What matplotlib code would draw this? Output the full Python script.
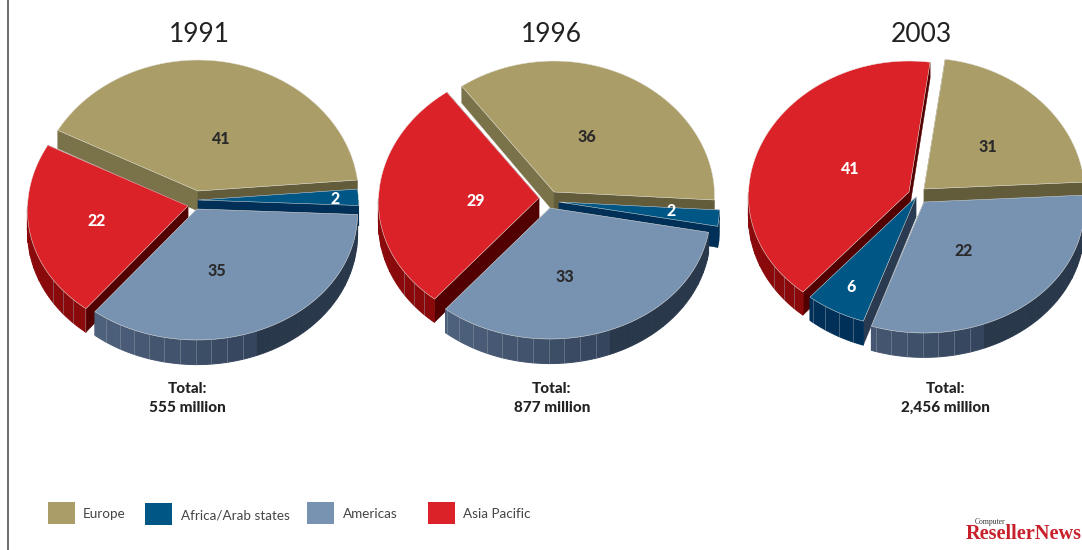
import numpy as np
import matplotlib
matplotlib.use('Agg')
import matplotlib.pyplot as plt
from matplotlib.patches import Polygon, Rectangle

years = ['1991', '1996', '2003']
totals = ['555 million', '877 million', '2,456 million']

# printed numbers
europe = [41, 36, 31]
africa = [2, 2, 6]
americas = [35, 33, 22]
asia = [22, 29, 41]

# slice sizes as drawn (2003 Europe and Americas slices don't follow their printed labels)
europe_drawn = [41, 36, 22]
africa_drawn = [2, 2, 6]
americas_drawn = [35, 33, 31]
asia_drawn = [22, 29, 41]

# counter-clockwise slice order for each pie
slice_order = [
    ['europe', 'asia', 'americas', 'africa'],
    ['europe', 'asia', 'americas', 'africa'],
    ['europe', 'asia', 'africa', 'americas'],
]
legend_names = ['Europe', 'Africa/Arab states', 'Americas', 'Asia Pacific']

# layout
start_angle = [4.8, -3.5, 3.0]
apex = [
    {'europe': (198, 191), 'asia': (188, 206), 'americas': (197, 209), 'africa': (198, 200)},
    {'europe': (554, 192), 'asia': (539, 198), 'americas': (550, 208), 'africa': (559, 202)},
    {'europe': (924, 189), 'asia': (909, 192), 'americas': (924, 202), 'africa': (916, 197)},
]
label_pos = [
    {'europe': (220, 138), 'asia': (97, 219), 'americas': (217, 270), 'africa': (335, 198)},
    {'europe': (587, 136), 'asia': (476, 199), 'americas': (565, 276), 'africa': (671, 210)},
    {'europe': (988, 145), 'asia': (849, 168), 'americas': (964, 250), 'africa': (851, 286)},
]
title_x = [199, 551, 921]
total_x = [187, 552, 945]
RX, RY = 160.5, 131

tops = {'europe': '#ab9d68', 'africa': '#005685', 'americas': '#7893b2', 'asia': '#dc2229'}
edge_start = {'europe': '#635c3a', 'africa': '#003058', 'americas': '#2a384c', 'asia': '#520000'}
edge_end = {'europe': '#7a7249', 'africa': '#2a3a50', 'americas': '#2a384c', 'asia': '#520000'}
text_col = {'europe': '#2a2a2a', 'africa': 'white', 'americas': '#2a2a2a', 'asia': 'white'}

drawn = {'europe': europe_drawn, 'africa': africa_drawn, 'americas': americas_drawn, 'asia': asia_drawn}
printed = {'europe': europe, 'africa': africa, 'americas': americas, 'asia': asia}


def lower(pts):
    # push top-face points down by the wall height, a bit taller towards the viewer
    pts = np.asarray(pts, dtype=float)
    return pts + np.column_stack([np.zeros(len(pts)), 20 + 4 * (pts[:, 1] - 190) / RY])


def arc(cx, cy, a, b, n=60):
    # back of the pie slightly narrower than the front
    t = np.radians(np.linspace(a, b, n))
    return np.column_stack([cx + RX * np.cos(t) * (1 - 0.03 * np.sin(t)), cy - RY * np.sin(t)])


def facet_style(region, theta):
    # returns colour and whether a thin rib line is drawn
    if region == 'americas':
        if theta >= 290:
            return '#2a384c', False
        f = np.clip((theta - 235) / 55, 0, 1)
        c0, c1 = np.array([0x4d, 0x60, 0x7c]), np.array([0x34, 0x44, 0x5c])
        return tuple((c0 + (c1 - c0) * f) / 255), True
    if region == 'asia':
        return '#8a0a0c', theta > 212
    if region == 'africa':
        return '#003058', True
    return '#635c3a', False


def draw_slice(ax, region, cx, cy, a, b):
    rim = arc(cx, cy, a, b)
    # cut faces, the one further back first
    faces = [(rim[0], edge_start[region]), (rim[-1], edge_end[region])]
    faces.sort(key=lambda f: f[0][1])
    for corner, col in faces:
        quad = np.array([[cx, cy], corner])
        ax.add_patch(Polygon(np.vstack([quad, lower(quad)[::-1]]), fc=col, ec=col, lw=0.3))
    # outer wall, only the part facing the viewer
    lo, hi = max(a, 180), min(b, 360)
    if hi > lo:
        step = 5.5
        marks = [lo] + [m for m in np.arange(0, 370, step) if lo < m < hi] + [hi]
        for s, e in zip(marks[:-1], marks[1:]):
            seg = arc(cx, cy, s, e, 8)
            col, rib = facet_style(region, (s + e) / 2)
            ax.add_patch(Polygon(np.vstack([seg, lower(seg)[::-1]]), fc=col, ec=col, lw=0.7))
        for s, e in zip(marks[:-1], marks[1:]):
            seg = arc(cx, cy, s, e, 8)
            col, rib = facet_style(region, (s + e) / 2)
            if rib and s != lo:
                line = np.vstack([seg[0], lower(seg[:1])])
                ax.plot(line[:, 0], line[:, 1], color='#9aa4b0', lw=0.5, alpha=0.6)
    # top face
    ax.add_patch(Polygon(np.vstack([[cx, cy], rim]), fc=tops[region], ec='#e6e6e0', lw=0.35))


plt.rcParams['font.family'] = ['Lato', 'DejaVu Sans']
fig = plt.figure(figsize=(10.82, 5.5), dpi=100)
ax = fig.add_axes([0, 0, 1, 1])
ax.set_xlim(0, 1082)
ax.set_ylim(550, 0)
ax.axis('off')

# rule down the left
ax.plot([8, 8], [0, 550], color='#444444', lw=1.1)

for i, year in enumerate(years):
    # work out slice angles from the values
    angle = start_angle[i]
    spans = {}
    for region in slice_order[i]:
        sweep = drawn[region][i] * 3.6
        spans[region] = (angle, angle + sweep)
        angle += sweep
    # back to front
    for region in ['europe', 'asia', 'africa', 'americas']:
        cx, cy = apex[i][region]
        draw_slice(ax, region, cx, cy, *spans[region])
        lx, ly = label_pos[i][region]
        ax.text(lx, ly + 1.5, str(printed[region][i]), color=text_col[region], fontsize=11.5,
                fontweight='black', ha='center', va='center', zorder=5)

    ax.text(title_x[i], 34, year, fontsize=19, fontweight='normal', color='#222222',
            ha='center', va='center')
    ax.text(total_x[i], 389, 'Total:', fontsize=11, fontweight='black', color='#222222',
            ha='center', va='center')
    ax.text(total_x[i], 408, totals[i], fontsize=11, fontweight='black', color='#222222',
            ha='center', va='center')

# legend
swatch_x = [48, 145, 307, 428]
swatch_y = [502, 503, 502, 502]
text_x = [83, 181, 343, 463]
text_y = [514, 515, 514, 514]
swatch_col = [tops['europe'], tops['africa'], tops['americas'], tops['asia']]
for name, sx, sy, tx, ty, col in zip(legend_names, swatch_x, swatch_y, text_x, text_y, swatch_col):
    ax.add_patch(Rectangle((sx, sy), 27, 22, fc=col, ec='none'))
    ax.text(tx, ty, name, fontsize=9.7, fontweight='normal', color='#444444', ha='left', va='center')

# masthead
ax.text(990, 522, 'Computer', fontsize=5.5, family=['Liberation Serif'], color='#333333',
        ha='center', va='center')
ax.text(1082, 534, 'ResellerNews', fontsize=14.6, family=['Liberation Serif'], fontweight='bold',
        color='#c8202a', ha='right', va='center')

fig.savefig('out.png', dpi=100)
